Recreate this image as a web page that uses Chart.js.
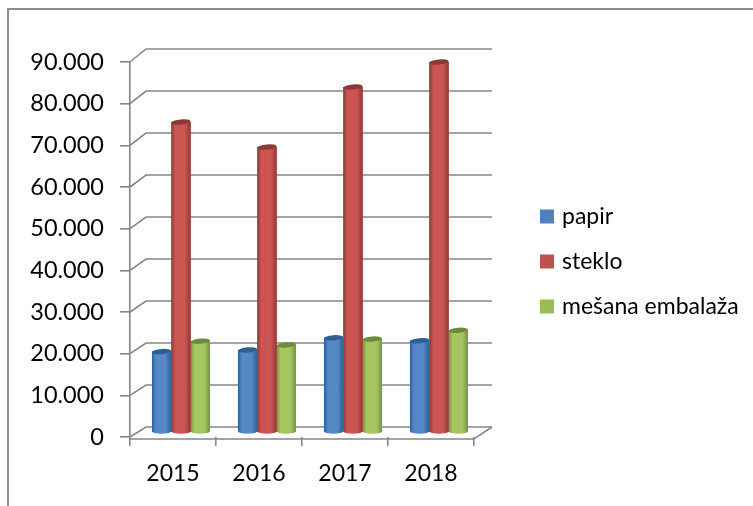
<!DOCTYPE html>
<html><head><meta charset="utf-8">
<script src="https://cdn.jsdelivr.net/npm/chart.js@4/dist/chart.umd.min.js"></script>
<style>html,body{margin:0;padding:0;background:#fff}canvas{display:block}</style>
</head><body><canvas id="c" width="753" height="506" style="width:753px;height:506px"></canvas>
<script>
const categories = ['2015','2016','2017','2018'];
const papir = [19300,19700,22600,21900];
const steklo = [74400,68400,82800,88800];
const mesana = [21800,20900,22300,24400];
const seriesNames = ['papir','steklo','mešana embalaža'];
const tickLabels = ['0','10.000','20.000','30.000','40.000','50.000','60.000','70.000','80.000','90.000'];
const GRID = '#868686';
const FONT = 'Lato, "Open Sans", sans-serif';
const shades = {
 '#4F81BD':{edge:'#2f5f96',mid:'#5488c6',top:'#2f5f90'},
 '#C0504D':{edge:'#8f3836',mid:'#cb5552',top:'#8a3a38'},
 '#9BBB59':{edge:'#76933f',mid:'#a6c662',top:'#6f8a3a'}
};
const DX=8, DY=-5;
const threeD = {
 id:'threeD',
 afterLayout(chart){
  const l=chart.legend;
  const w=l.width,h=l.height;
  l.left=521.5;l.right=521.5+w;l.top=183;l.bottom=183+h;
 },
 beforeDraw(chart){
  const {ctx,scales:{x,y},chartArea:a}=chart;
  ctx.save();
  ctx.strokeStyle='#8c8c8c';ctx.lineWidth=2;
  ctx.beginPath();ctx.moveTo(8,506);ctx.lineTo(8,9);ctx.lineTo(753,9);ctx.stroke();
  ctx.strokeStyle=GRID;ctx.lineWidth=1.6;
  tickLabels.forEach((t,i)=>{
   const py=y.getPixelForTick(i);
   const off=10+3*i/9;
   ctx.beginPath();ctx.moveTo(a.left,py);ctx.lineTo(a.left+16,py-off);ctx.lineTo(a.right+18,py-off);ctx.stroke();
  });
  ctx.beginPath();ctx.moveTo(a.left,a.bottom+2);ctx.lineTo(a.right,a.bottom+2);ctx.lineTo(a.right+18,a.bottom-10);ctx.stroke();
  ctx.restore();
 },
 beforeDatasetsDraw(chart){chart.ctx.save();chart.ctx.translate(DX,DY);},
 afterDatasetsDraw(chart){
  const ctx=chart.ctx;
  [0,2,1].forEach(idx=>{
   const ds=chart.data.datasets[idx], s=shades[ds.backgroundColor];
   chart.getDatasetMeta(idx).data.forEach(b=>{
    const hw=b.width/2, ry=2.6, L=b.x-hw, R=b.x+hw;
    const g=ctx.createLinearGradient(L,0,R,0);
    g.addColorStop(0,s.edge);g.addColorStop(.2,s.mid);g.addColorStop(.7,s.mid);g.addColorStop(1,s.edge);
    ctx.fillStyle=g;
    ctx.beginPath();ctx.moveTo(L,b.y);ctx.lineTo(L,b.base);
    ctx.ellipse(b.x,b.base,hw,ry,0,Math.PI,0,true);
    ctx.lineTo(R,b.y);ctx.closePath();ctx.fill();
    ctx.fillStyle=s.top;
    ctx.beginPath();ctx.ellipse(b.x,b.y,hw,ry,-0.08,0,Math.PI*2);ctx.fill();
   });
  });
  ctx.restore();
 }
};
const mk=(i,data,color)=>({label:seriesNames[i],data,backgroundColor:color,borderWidth:0,clip:false,
  categoryPercentage:.675,barPercentage:1});
new Chart(document.getElementById('c'),{
 type:'bar',
 data:{labels:categories,datasets:[mk(0,papir,'#4F81BD'),mk(1,steklo,'#C0504D'),mk(2,mesana,'#9BBB59')]},
 plugins:[threeD],
 options:{
  responsive:false,animation:false,
  layout:{padding:{left:0,top:62,right:279,bottom:0}},
  plugins:{
   title:{display:false},tooltip:{enabled:false},
   legend:{position:'chartArea',align:'start',
    labels:{boxWidth:7,boxHeight:7,padding:22,color:'#000',font:{family:FONT,size:23},
     generateLabels(chart){
      return Chart.defaults.plugins.legend.labels.generateLabels(chart).map(it=>({...it,strokeStyle:it.fillStyle,lineWidth:7,lineJoin:'miter'}));
     }}}
  },
  scales:{
   x:{grid:{drawOnChartArea:false,color:GRID,lineWidth:1.6,tickLength:9},border:{display:false},
      ticks:{color:'#000',padding:14,maxRotation:0,font:{family:FONT,size:23}},
      afterFit(s){s.height=69;}},
   y:{min:0,max:90000,grid:{drawOnChartArea:false,color:GRID,lineWidth:1.6,tickLength:10},border:{color:GRID,width:1.6},
      afterBuildTicks(s){s.ticks=tickLabels.map((t,i)=>({value:i*10000}));},
      afterFit(s){s.width=130;},
      ticks:{color:'#000',padding:16,autoSkip:false,font:{family:FONT,size:23.5},callback:(v,i)=>tickLabels[i]}}
  }
 }
});
</script></body></html>
